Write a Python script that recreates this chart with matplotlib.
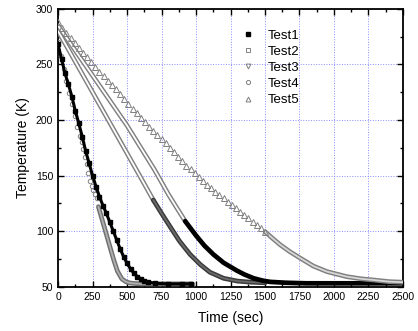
import matplotlib.pyplot as plt
from matplotlib.lines import Line2D

plt.rcParams['font.family'] = ['Liberation Sans', 'DejaVu Sans']

# Test1: solid black squares
t1 = [0, 25, 50, 75, 100, 125, 150, 175, 200, 225, 250, 275, 300, 325, 350, 375, 400,
      425, 450, 475, 500, 525, 550, 575, 600, 625, 650, 700, 800, 900, 960]
T1 = [268, 255, 242, 232, 221, 208, 197, 185, 172, 161, 150, 140, 131, 123, 116, 108, 100,
      92, 84, 77, 71, 66, 62, 59, 57, 55.5, 54.3, 53, 52.5, 52.5, 52.5]

# Test2: open squares (sparse chain, then dense part)
t2_a = [0, 100, 200, 300, 400, 500, 600, 690]
T2_a = [280, 258, 236, 214, 192, 170, 148, 128]
t2_b = [690, 750, 812, 880, 957, 1030, 1100, 1200, 1300, 1400, 1500]
T2_b = [128, 116, 104, 91, 79, 70, 63, 57.5, 55, 54, 53.5]

# Test3: open down triangles
t3_a = [0, 100, 200, 300, 400, 500, 600, 700, 800, 860, 921]
T3_a = [285, 267, 249, 231, 213, 195, 175, 155, 133, 121, 109]
t3_b = [921, 1000, 1060, 1126, 1200, 1295, 1350, 1416, 1480, 1537, 1650, 1800, 2500]
T3_b = [109, 96, 87, 79, 71.5, 64.5, 61, 57.6, 55.5, 54.3, 53.5, 53, 53]

# Test4: open circles
t4_a = [0, 20, 40, 60, 80, 100, 120, 140, 160, 172, 184, 196, 208, 220, 232, 244, 256, 268, 280]
T4_a = [270, 258, 246, 235, 224, 214, 204, 194, 186, 180, 173.5, 167, 160, 152.5, 145, 141,
        137.4, 133.5, 130]
t4_b = [292, 341, 401, 430, 462, 490, 520, 560, 600, 700, 800, 969]
T4_b = [122, 101, 75, 64, 57, 54.5, 53.3, 52.8, 52.5, 52.5, 52.5, 52.5]

# Test5: open up triangles
t5_a = [0, 30, 60, 90, 120, 150, 180, 210, 240, 270, 300, 330, 360, 390, 420, 450, 480,
        510, 540, 570, 600, 630, 660, 690, 720, 750, 780, 810, 840, 870, 900, 930, 960,
        990, 1020, 1050, 1080, 1110, 1140, 1170, 1200, 1230, 1260, 1290, 1320, 1350, 1380,
        1410, 1440, 1470, 1500]
T5_a = [288, 283, 278, 273.5, 269.5, 265, 260.5, 256.5, 252, 247.5, 243.5, 239.5, 235.5,
        231.5, 227.5, 223.5, 219, 214.5, 210, 206, 202, 198, 194, 190.5, 186.5, 183, 179,
        175, 171, 167, 163, 159, 155.5, 152, 148.5, 145, 141.5, 138.5, 135.5, 132.5, 129.5,
        126.5, 123.5, 120.5, 117.5, 114.5, 111.5, 108.5, 105.5, 102.5, 99.5]
t5_b = [1500, 1550, 1610, 1680, 1755, 1851, 1950, 2093, 2200, 2286, 2400, 2500]
T5_b = [99.5, 94, 87.7, 81.5, 75.7, 68.5, 63.5, 59, 57, 56, 54.5, 54]

labels = ['Test1', 'Test2', 'Test3', 'Test4', 'Test5']
gris = '#808080'

fig = plt.figure(figsize=(4.18, 3.31), dpi=100)
ax = fig.add_axes([0.139, 0.134, 0.825, 0.839])

# cadenas densas de marcadores abiertos -> banda gris con borde
def banda(t, T, borde, centro):
    ax.plot(t, T, color=borde, lw=3.4, solid_capstyle='round', solid_joinstyle='round', zorder=3)
    ax.plot(t, T, color=centro, lw=1.3, solid_capstyle='round', solid_joinstyle='round', zorder=3)

banda(t2_a, T2_a, gris, 'white')
banda(t3_a, T3_a, gris, 'white')
banda(t2_b, T2_b, '#3a3a3a', '#6a6a6a')
ax.plot(t3_b, T3_b, color='black', lw=3.4, solid_capstyle='round', solid_joinstyle='round', zorder=3)
banda(t4_b, T4_b, '#707070', '#b0b0b0')
banda(t5_b, T5_b, gris, '#d8d8d8')

ax.plot(t4_a, T4_a, 'o', ms=3.2, mfc='none', mec=gris, mew=0.7, zorder=4)
ax.plot(t4_b[-1:], T4_b[-1:], 'o', ms=3.2, mfc='white', mec=gris, mew=0.7, zorder=5)
ax.plot(t5_a, T5_a, '^', ms=3.8, mfc='none', mec=gris, mew=0.7, zorder=4)
ax.plot(t1, T1, color='black', lw=2.2, solid_joinstyle='round', zorder=5)
ax.plot(t1, T1, 's', ms=3, color='black', zorder=5)

ax.set_xlim(0, 2500)
ax.set_ylim(50, 300)
ax.set_xticks(range(0, 2501, 250))
ax.set_xticks(range(125, 2500, 250), minor=True)
ax.set_yticks(range(50, 301, 50))
ax.set_yticks(range(75, 300, 50), minor=True)
ax.tick_params(which='both', direction='in', top=True, right=True, labelsize=7.5)
ax.tick_params(which='major', length=4, width=1)
ax.tick_params(which='minor', length=2.5, width=1)
ax.grid(True, which='major', color='#8c8cff', ls=':', lw=0.7)
for s in ax.spines.values():
    s.set_linewidth(1.3)

ax.set_xlabel('Time (sec)', fontsize=10, labelpad=7)
ax.set_ylabel('Temperature (K)', fontsize=10, labelpad=4)

handles = [
    Line2D([], [], ls='none', marker='s', ms=3, color='black'),
    Line2D([], [], ls='none', marker='s', ms=3, mfc='none', mec=gris, mew=0.7),
    Line2D([], [], ls='none', marker='v', ms=3.5, mfc='none', mec=gris, mew=0.7),
    Line2D([], [], ls='none', marker='o', ms=3, mfc='none', mec=gris, mew=0.7),
    Line2D([], [], ls='none', marker='^', ms=3.5, mfc='none', mec=gris, mew=0.7),
]
ax.legend(handles, labels, loc='upper left', bbox_to_anchor=(0.5, 0.96), frameon=False,
          fontsize=9.5, handlelength=1.2, handletextpad=0.9, labelspacing=0.3,
          borderpad=0.2)

fig.savefig('out.png', dpi=100)
